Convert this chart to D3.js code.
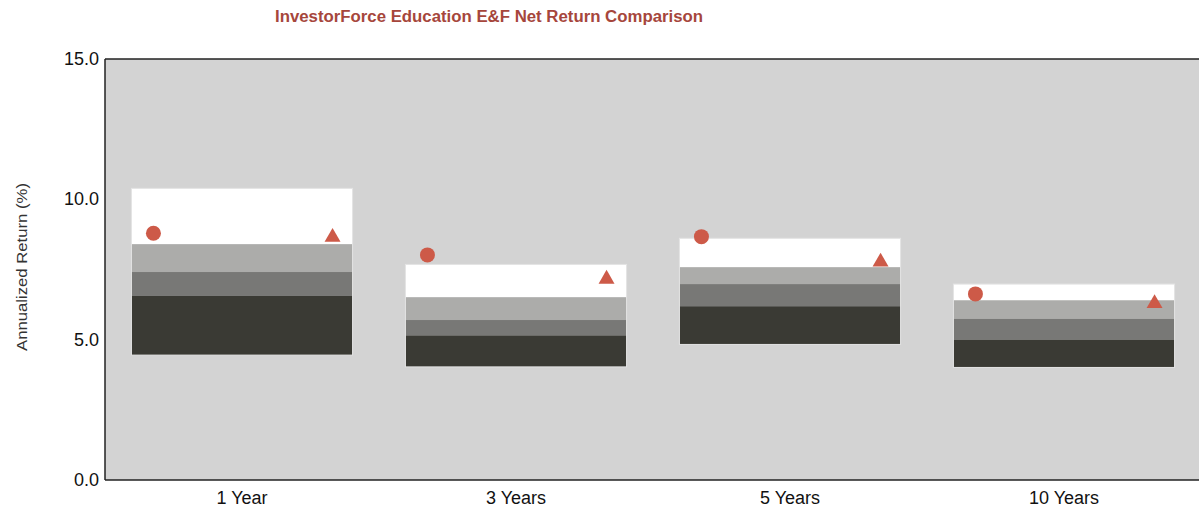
<!DOCTYPE html>
<html>
<head>
<meta charset="utf-8">
<script src="https://cdn.jsdelivr.net/npm/d3@7"></script>
<style>
  body { margin: 0; background: #fff; }
  text { font-family: "Liberation Sans", Arial, sans-serif; }
</style>
</head>
<body>
<svg id="chart" width="1199" height="510"></svg>
<script>
// periods and percentile breakpoints (annualized return, %)
const periods = ["1 Year", "3 Years", "5 Years", "10 Years"];
const p5  = [10.39, 7.68, 8.61, 6.98];
const p25 = [8.40, 6.51, 7.58, 6.40];
const p50 = [7.41, 5.70, 6.98, 5.74];
const p75 = [6.56, 5.15, 6.19, 4.99];
const p95 = [4.45, 4.03, 4.83, 4.01];
const fund  = [8.79, 8.02, 8.67, 6.63];   // circles
const bench = [8.65, 7.16, 7.77, 6.29];   // triangles
const yTicks = [0, 5, 10, 15];

const bandColors = ["#ffffff", "#acacaa", "#787876", "#3a3a34"];
const markColor = "#cd5a48";

const svg = d3.select("#chart");
const plotL = 105, plotT = 59, plotB = 480, plotR = 1201;

let x = d3.scaleBand().domain(periods).range([plotL, plotR]).paddingInner(0).paddingOuter(0);
let y = d3.scaleLinear().domain([0, 15]).range([plotB, plotT]);

// plot background
svg.append("rect")
  .attr("x", plotL).attr("y", plotT)
  .attr("width", plotR - plotL).attr("height", plotB - plotT)
  .attr("fill", "#d3d3d3");

const boxW = x.bandwidth() * 0.807;

let rows = periods.map((p, i) => ({
  p: p,
  edges: [p5[i], p25[i], p50[i], p75[i], p95[i]],
  fund: fund[i], bench: bench[i]
}));

let g = svg.selectAll("g.box").data(rows).join("g").attr("class", "box");

g.each(function(d) {
  let x0 = x(d.p) + (x.bandwidth() - boxW) / 2;
  let sel = d3.select(this);
  for (let k = 0; k < 4; k++) {
    sel.append("rect")
      .attr("x", x0)
      .attr("y", y(d.edges[k]))
      .attr("width", boxW)
      .attr("height", y(d.edges[k + 1]) - y(d.edges[k]))
      .attr("fill", bandColors[k]);
  }
  sel.append("rect")
    .attr("x", x0).attr("y", y(d.edges[0]))
    .attr("width", boxW).attr("height", y(d.edges[4]) - y(d.edges[0]))
    .attr("fill", "none").attr("stroke", "#e4e4e4").attr("stroke-width", 1);
  sel.append("circle")
    .attr("cx", x0 + 22)
    .attr("cy", y(d.fund))
    .attr("r", 7.5)
    .attr("fill", markColor);
  sel.append("path")
    .attr("d", d3.symbol().type(d3.symbolTriangle).size(110)())
    .attr("transform", `translate(${x0 + boxW - 20},${y(d.bench)})`)
    .attr("fill", markColor);
});

// axes lines
svg.append("line").attr("x1", plotL).attr("x2", plotR).attr("y1", plotT).attr("y2", plotT)
  .attr("stroke", "#222").attr("stroke-width", 1.5);
svg.append("line").attr("x1", plotL).attr("x2", plotR).attr("y1", plotB).attr("y2", plotB)
  .attr("stroke", "#222").attr("stroke-width", 1.5);
svg.append("line").attr("x1", plotL).attr("x2", plotL).attr("y1", plotT).attr("y2", plotB)
  .attr("stroke", "#222").attr("stroke-width", 1.5);

// y tick labels
svg.selectAll("text.ytick").data(yTicks).join("text")
  .attr("class", "ytick")
  .attr("x", plotL - 6)
  .attr("y", d => y(d) + 6)
  .attr("text-anchor", "end")
  .attr("font-size", 18)
  .attr("fill", "#111")
  .text(d => d3.format(".1f")(d));

// x labels
svg.selectAll("text.xlab").data(periods).join("text")
  .attr("class", "xlab")
  .attr("x", d => x(d) + x.bandwidth() / 2)
  .attr("y", 504)
  .attr("text-anchor", "middle")
  .attr("font-size", 18)
  .attr("fill", "#111")
  .text(d => d);

// y axis title
svg.append("text")
  .attr("transform", "translate(27,267) rotate(-90)")
  .attr("text-anchor", "middle")
  .attr("font-size", 15)
  .attr("fill", "#333")
  .attr("textLength", 168)
  .attr("lengthAdjust", "spacingAndGlyphs")
  .text("Annualized Return (%)");

// chart title
svg.append("text")
  .attr("x", 489)
  .attr("y", 22)
  .attr("text-anchor", "middle")
  .attr("font-size", 16)
  .attr("font-weight", "bold")
  .attr("fill", "#a6463c")
  .attr("textLength", 428)
  .attr("lengthAdjust", "spacingAndGlyphs")
  .text("InvestorForce Education E&F Net Return Comparison");
</script>
</body>
</html>
